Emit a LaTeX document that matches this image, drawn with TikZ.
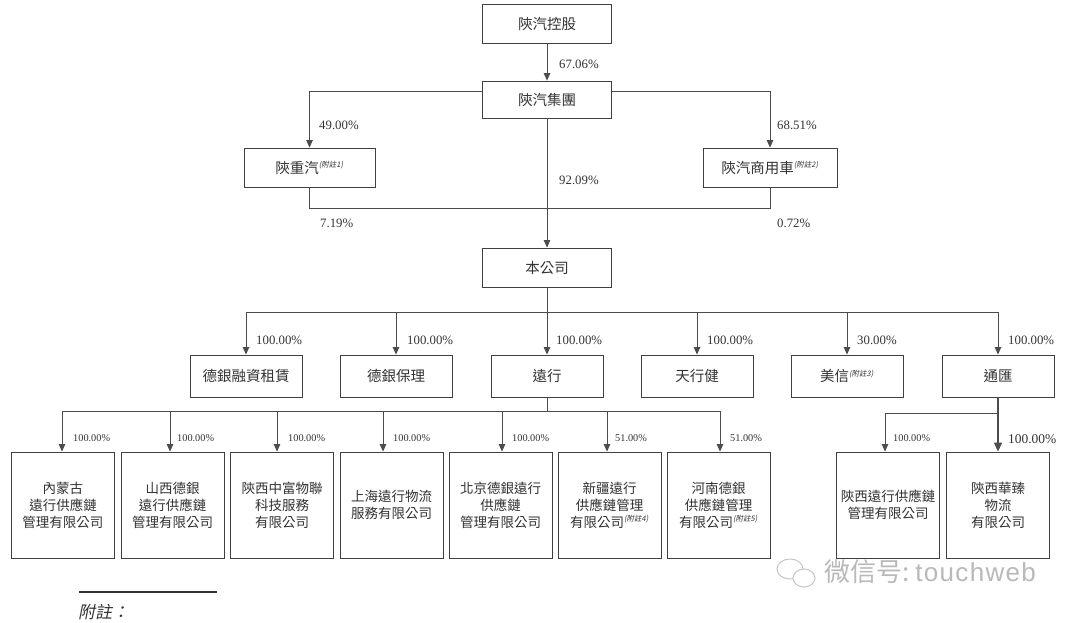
\documentclass[tikz,border=0pt]{standalone}
\usepackage{fontspec}
\setmainfont{Liberation Serif}
\newfontfamily\cjk{Noto Sans CJK TC}
\newfontfamily\cjkit{Noto Sans CJK TC}[FakeSlant=0.2]
\newfontfamily\cjksc{Noto Sans CJK SC}
\newfontfamily\wmfont{Liberation Sans}
\usetikzlibrary{arrows.meta}
\newcommand{\fnote}[1]{\textsuperscript{\cjkit\fontsize{7.5}{8}\selectfont(附註#1)}}
\begin{document}
\begin{tikzpicture}[x=1pt,y=-1pt,
  box/.style={draw=black!75, line width=0.9pt, inner sep=0pt, align=center, text=black!80,
    font=\cjk\fontsize{14.5}{18}\selectfont},
  boxa/.style={box, minimum width=129pt, minimum height=39pt},
  boxb/.style={box, minimum width=112pt, minimum height=42pt},
  boxc/.style={box, minimum width=103pt, minimum height=106pt, font=\cjk\fontsize{13.5}{17}\selectfont},
  ln/.style={draw=black!70, line width=0.8pt},
  arr/.style={ln, -{Triangle[width=6.5pt,length=7.5pt]}},
  pct/.style={anchor=west, inner sep=0pt, text=black!80, font=\fontsize{12.8}{14}\selectfont},
  pcts/.style={pct, font=\fontsize{10.3}{12}\selectfont},
  ]
\useasboundingbox[fill=white] (0,0) rectangle (1080,622);

% top levels
\node[boxa] (ks) at (547,23.5) {陝汽控股};
\node[boxa, minimum height=37pt] (jt) at (547,99.5) {陝汽集團};
\node[boxa, minimum width=131pt] (zq) at (309.5,167.5) {陝重汽\fnote{1}};
\node[boxa, minimum width=134pt] (sy) at (770,167.5) {陝汽商用車\fnote{2}};
\node[boxa] (bgs) at (547,267.5) {本公司};

\draw[arr] (ks) -- (jt);
\draw[arr] ([yshift=8.5pt]jt.west) -| (zq.north);
\draw[arr] ([yshift=8.5pt]jt.east) -| (sy.north);
\draw[ln] (zq.south) -- (zq.south |- 0,208) -- (sy.south |- 0,208) -- (sy.south);
\draw[arr] (jt) -- (bgs);

\node[pct] (p1) at (559,64) {67.06\%};
\node[pct] (p2) at (319,125) {49.00\%};
\node[pct] (p3) at (777,125) {68.51\%};
\node[pct] (p4) at (559,180) {92.09\%};
\node[pct] (p5) at (320,223) {7.19\%};
\node[pct] (p6) at (777,223) {0.72\%};

% level 2
\node[boxb] (d1) at (246,376) {德銀融資租賃};
\node[boxb] (d2) at (396,376) {德銀保理};
\node[boxb] (d3) at (547,376) {遠行};
\node[boxb] (d4) at (697,376) {天行健};
\node[boxb] (d5) at (847,376) {美信\fnote{3}};
\node[boxb] (d6) at (998,376) {通匯};

\coordinate (bus2) at (547,312);
\draw[ln] (bgs.south) -- (bus2);
\draw[ln] (d1.north |- bus2) -- (d6.north |- bus2);
\foreach \i in {1,...,6} {\draw[arr] (d\i.north |- bus2) -- (d\i.north);}

\node[pct] (q1) at (256,340) {100.00\%};
\node[pct] (q2) at (407,340) {100.00\%};
\node[pct] (q3) at (556,340) {100.00\%};
\node[pct] (q4) at (707,340) {100.00\%};
\node[pct] (q5) at (857,340) {30.00\%};
\node[pct] (q6) at (1008,340) {100.00\%};

% level 3 under 遠行
\node[boxc] (e1) at (63,505) {內蒙古\\遠行供應鏈\\管理有限公司};
\node[boxc] (e2) at (172.5,505) {山西德銀\\遠行供應鏈\\管理有限公司};
\node[boxc] (e3) at (282,505) {陝西中富物聯\\科技服務\\有限公司};
\node[boxc] (e4) at (391.5,505) {上海遠行物流\\服務有限公司};
\node[boxc] (e5) at (500.5,505) {北京德銀遠行\\供應鏈\\管理有限公司};
\node[boxc] (e6) at (609.5,505) {新疆遠行\\供應鏈管理\\有限公司\fnote{4}};
\node[boxc] (e7) at (718.5,505) {河南德銀\\供應鏈管理\\有限公司\fnote{5}};

\coordinate (bus3) at (547,411);
\draw[ln] (d3.south) -- (bus3);
\coordinate (a1) at (62,411);
\coordinate (a2) at (170,411);
\coordinate (a3) at (277,411);
\coordinate (a4) at (383,411);
\coordinate (a5) at (502,411);
\coordinate (a6) at (607,411);
\coordinate (a7) at (720,411);
\draw[ln] (a1) -- (a7);
\foreach \i in {1,...,7} {\draw[arr] (a\i) -- (a\i |- e\i.north);}

\node[pcts] (r1) at (73,438) {100.00\%};
\node[pcts] (r2) at (177,438) {100.00\%};
\node[pcts] (r3) at (288,438) {100.00\%};
\node[pcts] (r4) at (393,438) {100.00\%};
\node[pcts] (r5) at (512,438) {100.00\%};
\node[pcts] (r6) at (615,438) {51.00\%};
\node[pcts] (r7) at (730,438) {51.00\%};

% level 3 under 通匯
\node[boxc] (f1) at (888,505) {陝西遠行供應鏈\\管理有限公司};
\node[boxc] (f2) at (998,505) {陝西華臻\\物流\\有限公司};
\coordinate (b1) at (998,413);
\coordinate (b2) at (885,413);
\draw[ln, line width=1.3pt, -{Triangle[width=8pt,length=9pt]}] (d6.south) -- (f2.north);
\draw[arr] (b1) -- (b2) -- (b2 |- f1.north);
\node[pcts] (s1) at (893,438) {100.00\%};
\node[pct, font=\fontsize{13.4}{15}\selectfont] (s2) at (1008,439) {100.00\%};

% footnote
\coordinate (fl1) at (79,592);
\coordinate (fl2) at (217,592);
\draw[black!80, line width=1.2pt] (fl1) -- (fl2);
\node[anchor=west, inner sep=0pt, text=black!80, font=\cjkit\fontsize{17}{19}\selectfont] (fn) at (78,612) {附註：};

% watermark
\draw[gray!45, line width=1pt] (790,569) ellipse [x radius=13pt, y radius=10pt];
\draw[gray!45, line width=1pt, fill=white] (804,578) ellipse [x radius=11pt, y radius=9pt];
\node[anchor=west, inner sep=0pt, text=gray!55, font=\cjksc\fontsize{26}{28}\selectfont] (wm) at (824,572) {微信号:\hspace{6pt}{\wmfont\addfontfeature{LetterSpace=5} touchweb}};
\end{tikzpicture}
\end{document}
